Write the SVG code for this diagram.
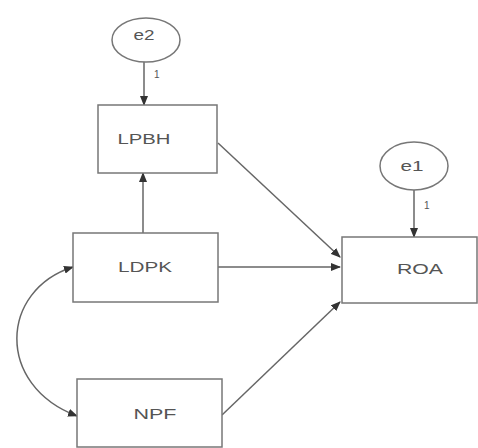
<svg xmlns="http://www.w3.org/2000/svg" width="478" height="448" viewBox="0 0 478 448">
<defs>
<marker id="ah" markerWidth="10" markerHeight="8" refX="9" refY="4" orient="auto" markerUnits="userSpaceOnUse">
<path d="M0,0 L10,4 L0,8 Z" fill="#333"/>
</marker>
<marker id="ahs" markerWidth="10" markerHeight="8" refX="1" refY="4" orient="auto" markerUnits="userSpaceOnUse">
<path d="M10,0 L0,4 L10,8 Z" fill="#333"/>
</marker>
<style>
.box{fill:#fff;stroke:#777;stroke-width:1.5}
.lbl{font-family:"Liberation Sans",Arial,sans-serif;font-size:14px;fill:#555;text-anchor:middle}
.one{font-family:"Liberation Sans",Arial,sans-serif;font-size:10px;fill:#555}
.c{fill:none;stroke:#666;stroke-width:1.5}
</style>
</defs>
<rect width="478" height="448" fill="#fff"/>
<g id="connectors">
<line class="c" x1="144" y1="62" x2="144" y2="105" marker-end="url(#ah)"/>
<text class="one" x="154" y="78">1</text>
<line class="c" x1="414" y1="190" x2="414" y2="237" marker-end="url(#ah)"/>
<text class="one" x="424" y="209">1</text>
<line class="c" x1="143" y1="233" x2="143" y2="173" marker-end="url(#ah)"/>
<line class="c" x1="218" y1="143" x2="340" y2="257" marker-end="url(#ah)"/>
<line class="c" x1="218" y1="267" x2="340" y2="267" marker-end="url(#ah)"/>
<line class="c" x1="222" y1="415" x2="340" y2="302" marker-end="url(#ah)"/>
<path class="c" d="M73,267 C0,290 -5,385 77,416" marker-start="url(#ahs)" marker-end="url(#ah)"/>
</g>
<g id="e2"><ellipse class="box" cx="146" cy="40" rx="34" ry="22"/><text class="lbl" x="144" y="40" textLength="21" lengthAdjust="spacingAndGlyphs">e2</text></g>
<g id="e1"><ellipse class="box" cx="414" cy="166" rx="34" ry="24"/><text class="lbl" x="412" y="171" textLength="23" lengthAdjust="spacingAndGlyphs">e1</text></g>
<g id="LPBH"><rect class="box" x="98" y="105" width="119" height="68"/><text class="lbl" x="144" y="144" textLength="53" lengthAdjust="spacingAndGlyphs">LPBH</text></g>
<g id="LDPK"><rect class="box" x="73" y="233" width="145" height="69"/><text class="lbl" x="145" y="272" textLength="54" lengthAdjust="spacingAndGlyphs">LDPK</text></g>
<g id="NPF"><rect class="box" x="77" y="379" width="145" height="68"/><text class="lbl" x="155" y="419" textLength="43" lengthAdjust="spacingAndGlyphs">NPF</text></g>
<g id="ROA"><rect class="box" x="342" y="237" width="135" height="66"/><text class="lbl" x="420" y="274" textLength="46" lengthAdjust="spacingAndGlyphs">ROA</text></g>
</svg>
